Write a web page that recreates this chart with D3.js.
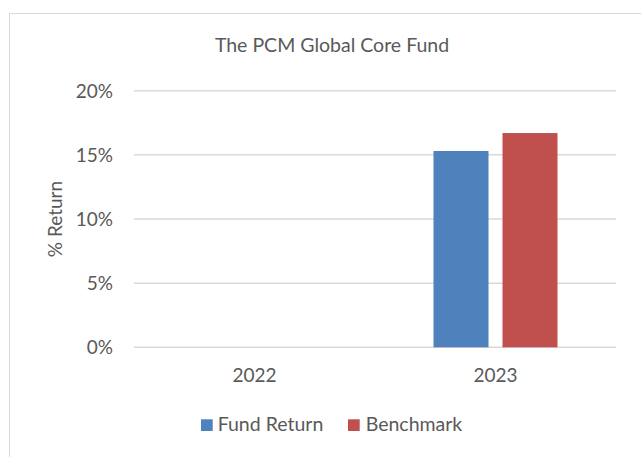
<!DOCTYPE html>
<html>
<head>
<meta charset="utf-8">
<script src="https://cdn.jsdelivr.net/npm/d3@7"></script>
<style>
  html, body { margin: 0; padding: 0; background: #ffffff; }
  svg { display: block; }
  text { font-family: Lato, "Open Sans", sans-serif; fill: #595959; }
</style>
</head>
<body>
<svg id="chart" width="641" height="457"></svg>
<script>
const title = "The PCM Global Core Fund";
const yAxisLabel = "% Return";
const categories = ["2022", "2023"];
const seriesNames = ["Fund Return", "Benchmark"];
const fundReturn = [null, 0.153];
const benchmark = [null, 0.167];
const yTicks = [0, 0.05, 0.10, 0.15, 0.20];
const colors = ["#4F81BD", "#C0504D"];

const svg = d3.select("#chart");

// chart border
svg.append("rect")
  .attr("x", 9.5).attr("y", 13.5)
  .attr("width", 700).attr("height", 500)
  .attr("fill", "#ffffff").attr("stroke", "#d9d9d9").attr("stroke-width", 1);

const plot = { left: 134, right: 616, top: 90.7, bottom: 347.3 };

const y = d3.scaleLinear().domain([0, 0.20]).range([plot.bottom, plot.top]);
const x0 = d3.scaleBand().domain(categories).range([plot.left, plot.right]).padding(0);
const x1 = d3.scaleBand().domain(seriesNames)
  .range([58.5, x0.bandwidth() - 58.5]).paddingInner(0.203).paddingOuter(0);

// gridlines
svg.append("g").selectAll("line").data(yTicks).join("line")
  .attr("x1", plot.left).attr("x2", plot.right)
  .attr("y1", d => y(d)).attr("y2", d => y(d))
  .attr("stroke", "#d9d9d9").attr("stroke-width", 1.5);

// y axis tick labels
const yAxis = d3.axisLeft(y).tickValues(yTicks).tickFormat(d3.format(".0%")).tickSize(0).tickPadding(0);
const gy = svg.append("g").attr("transform", `translate(113,0)`).call(yAxis);
gy.select(".domain").remove();
gy.selectAll("text").attr("font-size", 19).attr("font-family", "Lato").attr("fill", "#595959").attr("dy", "0.35em");

// x axis labels
const xAxis = d3.axisBottom(x0).tickSize(0).tickPadding(0);
const gx = svg.append("g").attr("transform", `translate(0,${plot.bottom})`).call(xAxis);
gx.select(".domain").remove();
gx.selectAll("text").attr("font-size", 19).attr("font-family", "Lato").attr("fill", "#595959")
  .attr("y", 35).attr("dy", 0);

// bars
const rows = categories.map((c, i) => ({ cat: c, vals: [fundReturn[i], benchmark[i]] }));
const groups = svg.append("g").selectAll("g").data(rows).join("g")
  .attr("transform", d => `translate(${x0(d.cat)},0)`);
groups.selectAll("rect")
  .data(d => d.vals.map((v, j) => ({ v, s: seriesNames[j], j })).filter(e => e.v != null))
  .join("rect")
  .attr("x", d => x1(d.s))
  .attr("width", x1.bandwidth())
  .attr("y", d => y(d.v))
  .attr("height", d => y(0) - y(d.v))
  .attr("fill", d => colors[d.j]);

// title
svg.append("text")
  .attr("x", 332).attr("y", 52.3)
  .attr("text-anchor", "middle")
  .attr("font-size", 19.5)
  .text(title);

// y axis label
svg.append("text")
  .attr("transform", `translate(62,219) rotate(-90)`)
  .attr("text-anchor", "middle")
  .attr("font-size", 19)
  .text(yAxisLabel);

// legend
const legendItems = [
  { name: seriesNames[0], color: colors[0], sx: 201, tx: 217.7 },
  { name: seriesNames[1], color: colors[1], sx: 348, tx: 365.7 }
];
const lg = svg.append("g");
legendItems.forEach(it => {
  lg.append("rect").attr("x", it.sx).attr("y", 419.3).attr("width", 11.7).attr("height", 11.7).attr("fill", it.color);
  lg.append("text").attr("x", it.tx).attr("y", 431).attr("font-size", 19.5).text(it.name);
});
</script>
</body>
</html>
